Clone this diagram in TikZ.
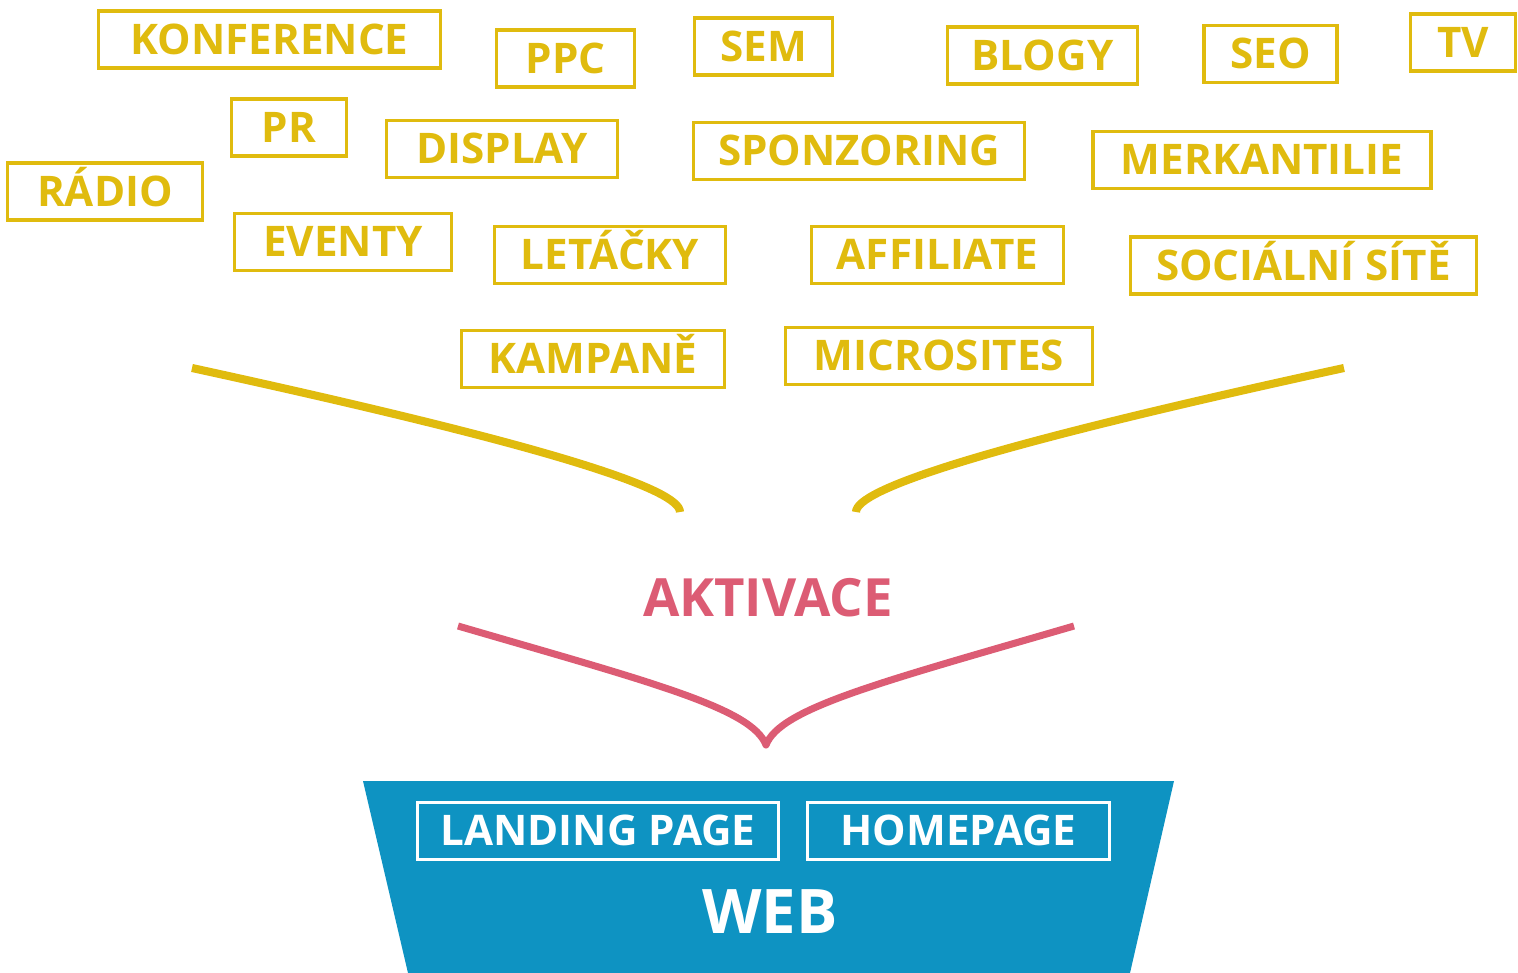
\documentclass[tikz,border=0pt]{standalone}
\usepackage{fontspec}
\setmainfont{Open Sans}
\usetikzlibrary{positioning}
\definecolor{channelyellow}{HTML}{E0BB0E}
\definecolor{activpink}{HTML}{DC5C74}
\definecolor{webblue}{HTML}{0E93C2}
\tikzset{
    % boxes for the marketing channels
    channel_box/.style={
        draw=channelyellow,
        text=channelyellow,
        line width=2pt,
        inner sep=0pt,
        minimum height=1.14cm,
        text height=17pt,
        text depth=0pt,
        font=\fontsize{24}{28}\selectfont\bfseries
    },
    % boxes inside the web
    page_box/.style={
        draw=white,
        text=white,
        line width=1.8pt,
        inner sep=0pt,
        minimum height=1.14cm,
        text height=17pt,
        text depth=0pt,
        font=\fontsize{24}{28}\selectfont\bfseries
    },
    funnel_line/.style={
        line width=4.6pt,
        line cap=butt,
        line join=round
    }
}

\begin{document}
\begin{tikzpicture}[x=0.02cm, y=-0.02cm]
    \useasboundingbox (0,0) rectangle (1518,973);

    % --- 1. Channels ---
    \node[channel_box, minimum width=6.84cm] (konference) at (269.5,39.5) {KONFERENCE};
    \node[channel_box, minimum width=2.76cm] (ppc)        at (565.5,58.5) {PPC};
    \node[channel_box, minimum width=2.76cm] (sem)        at (763.5,46.5) {SEM};
    \node[channel_box, minimum width=3.80cm] (blogy)      at (1042.5,55.5) {BLOGY};
    \node[channel_box, minimum width=2.66cm] (seo)        at (1270.5,54) {SEO};
    \node[channel_box, minimum width=2.10cm] (tv)         at (1463,42.5) {TV};

    \node[channel_box, minimum width=2.30cm] (pr)         at (289,127.5) {PR};
    \node[channel_box, minimum width=4.62cm] (display)    at (502,149) {DISPLAY};
    \node[channel_box, minimum width=6.62cm] (sponzoring) at (859,151) {SPONZORING};
    \node[channel_box, minimum width=6.76cm] (merkantilie) at (1262,160) {MERKANTILIE};

    \node[channel_box, minimum width=3.90cm] (radio)      at (105,191.5) {RÁDIO};
    \node[channel_box, minimum width=4.34cm] (eventy)     at (343,242) {EVENTY};
    \node[channel_box, minimum width=4.62cm] (letacky)    at (610,255) {LETÁČKY};
    \node[channel_box, minimum width=5.04cm] (affiliate)  at (937.5,255) {AFFILIATE};
    \node[channel_box, minimum width=6.92cm] (socialni)   at (1303.5,265.5) {SOCIÁLNÍ SÍTĚ};

    \node[channel_box, minimum width=5.26cm] (kampane)    at (593,359) {KAMPANĚ};
    \node[channel_box, minimum width=6.14cm] (microsites) at (939,356) {MICROSITES};

    % --- 2. Funnel ---
    \draw[funnel_line, channelyellow] (192,368) .. controls (560,448) and (680,490) .. (680,512);
    \draw[funnel_line, channelyellow] (1344,368) .. controls (976,448) and (856,490) .. (856,512);

    \node[text=activpink, font=\fontsize{30}{34}\selectfont\bfseries] (aktivace) at (768,598) {AKTIVACE};

    \draw[funnel_line, activpink, line width=4pt] (458,626) .. controls (650,682) and (752,708) .. (766,745)
        .. controls (780,708) and (882,682) .. (1074,626);

    % --- 3. Web ---
    \fill[webblue] (363,781) -- (1174,781) -- (1130,973) -- (408,973) -- cycle;
    \node[page_box, minimum width=7.22cm] (landing)  at (598,831) {LANDING PAGE};
    \node[page_box, minimum width=6.04cm] (homepage) at (958.5,831) {HOMEPAGE};
    \node[text=white, font=\fontsize{35}{40}\selectfont\bfseries] (web) at (770,912) {WEB};
\end{tikzpicture}
\end{document}
